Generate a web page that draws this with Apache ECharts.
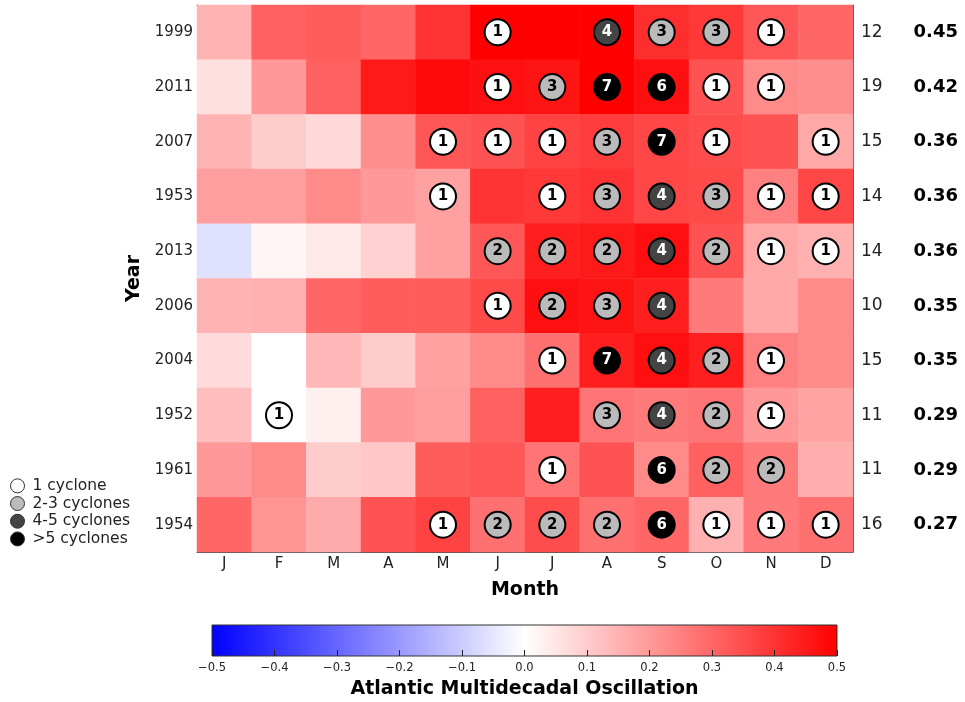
<!DOCTYPE html>
<html>
<head>
<meta charset="utf-8">
<script src="https://cdn.jsdelivr.net/npm/echarts@6/dist/echarts.min.js"></script>
<style>html,body{margin:0;padding:0;background:#fff}#c{width:965px;height:702px}</style>
</head>
<body>
<div id="c"></div>
<script>
// ---- data ----
const years = ['1999','2011','2007','1953','2013','2006','2004','1952','1961','1954'];
const monthNames = ['Jan','Feb','Mar','Apr','May','Jun','Jul','Aug','Sep','Oct','Nov','Dec'];
const monthLabels = ['J','F','M','A','M','J','J','A','S','O','N','D'];
const totals = [12,19,15,14,14,10,15,11,11,16];
const amoAnnual = [0.45,0.42,0.36,0.36,0.36,0.35,0.35,0.29,0.29,0.27];
const amo1999 = [0.15,0.31,0.32,0.30,0.40,0.50,0.50,0.50,0.41,0.39,0.33,0.30];
const amo2011 = [0.06,0.20,0.31,0.45,0.48,0.47,0.46,0.50,0.47,0.34,0.23,0.22];
const amo2007 = [0.15,0.10,0.075,0.22,0.33,0.34,0.37,0.38,0.36,0.35,0.34,0.17];
const amo1953 = [0.19,0.19,0.23,0.20,0.185,0.40,0.39,0.40,0.36,0.355,0.25,0.36];
const amo2013 = [-0.06,0.02,0.045,0.09,0.185,0.33,0.44,0.45,0.47,0.34,0.17,0.155];
const amo2006 = [0.15,0.155,0.30,0.32,0.32,0.355,0.47,0.46,0.44,0.26,0.17,0.23];
const amo2004 = [0.07,0.0,0.14,0.10,0.185,0.23,0.28,0.44,0.47,0.44,0.25,0.23];
const amo1952 = [0.13,0.0,0.03,0.20,0.19,0.31,0.44,0.27,0.26,0.27,0.20,0.18];
const amo1961 = [0.20,0.23,0.10,0.11,0.32,0.33,0.27,0.34,0.23,0.31,0.26,0.16];
const amo1954 = [0.30,0.21,0.165,0.34,0.37,0.28,0.35,0.28,0.30,0.155,0.26,0.28];
const cyc1999 = [0,0,0,0,0,1,0,4,3,3,1,0];
const cyc2011 = [0,0,0,0,0,1,3,7,6,1,1,0];
const cyc2007 = [0,0,0,0,1,1,1,3,7,1,0,1];
const cyc1953 = [0,0,0,0,1,0,1,3,4,3,1,1];
const cyc2013 = [0,0,0,0,0,2,2,2,4,2,1,1];
const cyc2006 = [0,0,0,0,0,1,2,3,4,0,0,0];
const cyc2004 = [0,0,0,0,0,0,1,7,4,2,1,0];
const cyc1952 = [0,1,0,0,0,0,0,3,4,2,1,0];
const cyc1961 = [0,0,0,0,0,0,1,0,6,2,2,0];
const cyc1954 = [0,0,0,0,1,2,2,2,6,1,1,1];
const cbTicks = [-0.5,-0.4,-0.3,-0.2,-0.1,0.0,0.1,0.2,0.3,0.4,0.5];

const amoRows = [amo1999,amo2011,amo2007,amo1953,amo2013,amo2006,amo2004,amo1952,amo1961,amo1954];
const cycRows = [cyc1999,cyc2011,cyc2007,cyc1953,cyc2013,cyc2006,cyc2004,cyc1952,cyc1961,cyc1954];

const heat = [];
amoRows.forEach((r,yi)=>r.forEach((v,xi)=>heat.push([xi,yi,v])));
const classes = [
  {name:'1 cyclone', test:c=>c===1, fill:'#ffffff', txt:'#000'},
  {name:'2-3 cyclones', test:c=>c>=2&&c<=3, fill:'#bbbbbb', txt:'#000'},
  {name:'4-5 cyclones', test:c=>c>=4&&c<=5, fill:'#444444', txt:'#fff'},
  {name:'>5 cyclones', test:c=>c>5, fill:'#000000', txt:'#fff'}
];
const FONT = 'DejaVu Sans';
const G = {left:197, top:5, width:656, height:547};
const CB = {left:212, top:625, width:625, height:31};

const scatterSeries = classes.map(cl=>{
  const d=[];
  cycRows.forEach((r,yi)=>r.forEach((c,xi)=>{ if(c>0 && cl.test(c)) d.push([xi,yi,c]); }));
  return {
    name: cl.name, type:'scatter', xAxisIndex:0, yAxisIndex:0, data:d,
    symbol:'circle', symbolSize:26, z:5,
    itemStyle:{color:cl.fill, borderColor:'#000', borderWidth:2, opacity:1},
    label:{show:true, position:'inside', formatter:p=>String(p.value[2]),
      color:cl.txt, fontFamily:FONT, fontWeight:'bold', fontSize:15},
    emphasis:{disabled:true}
  };
});

const chart = echarts.init(document.getElementById('c'), null, {renderer:'canvas'});
chart.setOption({
  animation:false,
  backgroundColor:'#fff',
  textStyle:{fontFamily:FONT},
  grid:[
    {left:G.left, top:G.top, width:G.width, height:G.height, containLabel:false},
    {left:CB.left, top:CB.top, width:CB.width, height:CB.height, containLabel:false}
  ],
  legend:{
    orient:'vertical', left:5, top:472, itemWidth:14, itemHeight:14, itemGap:0,
    icon:'circle',
    data:classes.map(c=>c.name),
    itemStyle:{borderColor:'#333', borderWidth:1},
    textStyle:{fontFamily:FONT, fontSize:15.5, color:'#222', padding:[0,0,0,3], lineHeight:17.7},
    selectedMode:false
  },
  visualMap:{
    show:false, type:'continuous', min:-0.5, max:0.5, seriesIndex:0,
    inRange:{color:['#0000ff','#ffffff','#ff0000']}
  },
  xAxis:[
    {type:'category', gridIndex:0, data:monthNames, position:'bottom',
      axisLine:{show:true, lineStyle:{color:'#555', width:1}}, axisTick:{show:false},
      axisLabel:{formatter:(v,i)=>monthLabels[i], fontSize:15, color:'#222', margin:5, fontFamily:FONT},
      name:'Month', nameLocation:'middle', nameGap:29,
      nameTextStyle:{fontSize:19, fontWeight:'bold', color:'#000', fontFamily:FONT},
      splitLine:{show:false}},
    {type:'category', gridIndex:0, data:monthNames, position:'top',
      axisLine:{show:true, lineStyle:{color:'#555', width:1}}, axisTick:{show:false},
      axisLabel:{show:false}, splitLine:{show:false}},
    {type:'value', gridIndex:1, min:-0.5, max:0.5, interval:0.1, position:'bottom',
      axisLine:{show:false}, axisTick:{show:true, inside:true, length:6, lineStyle:{color:'#222'}},
      splitLine:{show:false},
      axisLabel:{fontSize:11.5, color:'#222', margin:6, fontFamily:FONT,
        formatter:v=>{const t=cbTicks.find(x=>Math.abs(x-v)<1e-6); const s=(t===undefined?v:t).toFixed(1); return s.replace('-','\u2212');}},
      name:'Atlantic Multidecadal Oscillation', nameLocation:'middle', nameGap:24,
      nameTextStyle:{fontSize:19, fontWeight:'bold', color:'#000', fontFamily:FONT}}
  ],
  yAxis:[
    {type:'category', gridIndex:0, data:years, inverse:true, position:'left',
      axisLine:{show:true, lineStyle:{color:'#555', width:1}}, axisTick:{show:false},
      axisLabel:{fontSize:15, color:'#222', margin:4, fontFamily:FONT},
      name:'Year', nameLocation:'middle', nameGap:53, nameRotate:90,
      nameTextStyle:{fontSize:19, fontWeight:'bold', color:'#000', fontFamily:FONT},
      splitLine:{show:false}},
    {type:'category', gridIndex:0, data:years, inverse:true, position:'right',
      axisLine:{show:true, lineStyle:{color:'#555', width:1}}, axisTick:{show:false},
      axisLabel:{margin:8, fontFamily:FONT,
        formatter:(v,i)=>'{c|'+totals[i]+'}{a|'+amoAnnual[i].toFixed(2)+'}',
        rich:{c:{fontSize:17, color:'#222', width:52, align:'left', fontFamily:FONT},
              a:{fontSize:18, fontWeight:'bold', color:'#000', width:45, align:'right', fontFamily:FONT}}},
      splitLine:{show:false}},
    {type:'value', gridIndex:1, min:0, max:1, show:false}
  ],
  graphic:[
    {type:'rect', z:-1, silent:true,
      shape:{x:CB.left, y:CB.top, width:CB.width, height:CB.height},
      style:{fill:new echarts.graphic.LinearGradient(0,0,1,0,[
        {offset:0,color:'#0000ff'},{offset:0.5,color:'#ffffff'},{offset:1,color:'#ff0000'}]),
        stroke:'#333', lineWidth:1}}
  ],
  series:[
    {type:'heatmap', xAxisIndex:0, yAxisIndex:0, data:heat, z:1,
      itemStyle:{borderWidth:0}, emphasis:{disabled:true}, label:{show:false}},
    ...scatterSeries,
    {type:'line', xAxisIndex:2, yAxisIndex:2, data:[], silent:true}
  ]
});
</script>
</body>
</html>
